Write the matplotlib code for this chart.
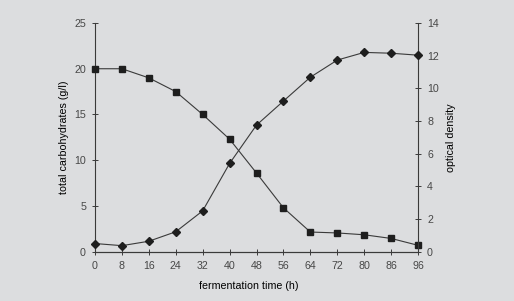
import numpy as np
import matplotlib
matplotlib.use("Agg")
import matplotlib.pyplot as plt

# fermentation time (h) — plotted as equally spaced categories
time_labels = ["0", "8", "16", "24", "32", "40", "48", "56", "64", "72", "80", "86", "96"]
carbohydrates = [20.0, 20.0, 19.0, 17.5, 15.0, 12.3, 8.6, 4.8, 2.15, 2.05, 1.85, 1.45, 0.7]
optical_density = [0.5, 0.37, 0.64, 1.22, 2.5, 5.4, 7.75, 9.22, 10.68, 11.73, 12.2, 12.15, 12.03]

BG = "#dcdddf"
INK = "#3a3a3a"
TXT = "#474747"

plt.rcParams.update({"font.family": "Liberation Sans", "font.size": 7.7,
                     "text.color": TXT, "xtick.color": INK, "ytick.color": INK,
                     "xtick.labelcolor": TXT, "ytick.labelcolor": TXT})

fig = plt.figure(figsize=(5.14, 3.01), dpi=100, facecolor=BG)
ax = fig.add_axes([95 / 514, 1 - 251.7 / 301, (418 - 95) / 514, (251.7 - 23) / 301])
ax.set_facecolor(BG)
ax2 = ax.twinx()

x = np.arange(len(time_labels))
ax.plot(x, carbohydrates, color=INK, lw=0.8, marker="s", ms=4.9,
        mfc="#1e1e1e", mec="#1e1e1e", clip_on=False, zorder=3)
ax2.plot(x, optical_density, color=INK, lw=0.8, marker="D", ms=3.8,
         mfc="#1e1e1e", mec="#1e1e1e", clip_on=False, zorder=3)

ax.set_xlim(0, len(x) - 1)
ax.set_ylim(0, 25)
ax2.set_ylim(0, 14)
ax.set_xticks(x)
ax.set_xticklabels(time_labels)
ax.set_yticks(np.arange(0, 26, 5))
ax2.set_yticks(np.arange(0, 15, 2))

for a in (ax, ax2):
    a.spines["top"].set_visible(False)
    for s in ("left", "right", "bottom"):
        a.spines[s].set_color(INK)
        a.spines[s].set_linewidth(0.8)
ax.spines["right"].set_visible(False)
ax2.spines["left"].set_visible(False)

ax.tick_params(direction="inout", length=5, width=0.7, pad=4)
ax2.tick_params(direction="inout", length=5, width=0.7, pad=4)

ax.set_xlabel("fermentation time (h)")
ax.xaxis.set_label_coords((248.5 - 95) / (418 - 95), -29 / 228.7)
ax.set_ylabel("total carbohydrates (g/l)", labelpad=3.5)
ax2.set_ylabel("optical density", labelpad=5)

fig.savefig("out.png", dpi=100, facecolor=BG)
